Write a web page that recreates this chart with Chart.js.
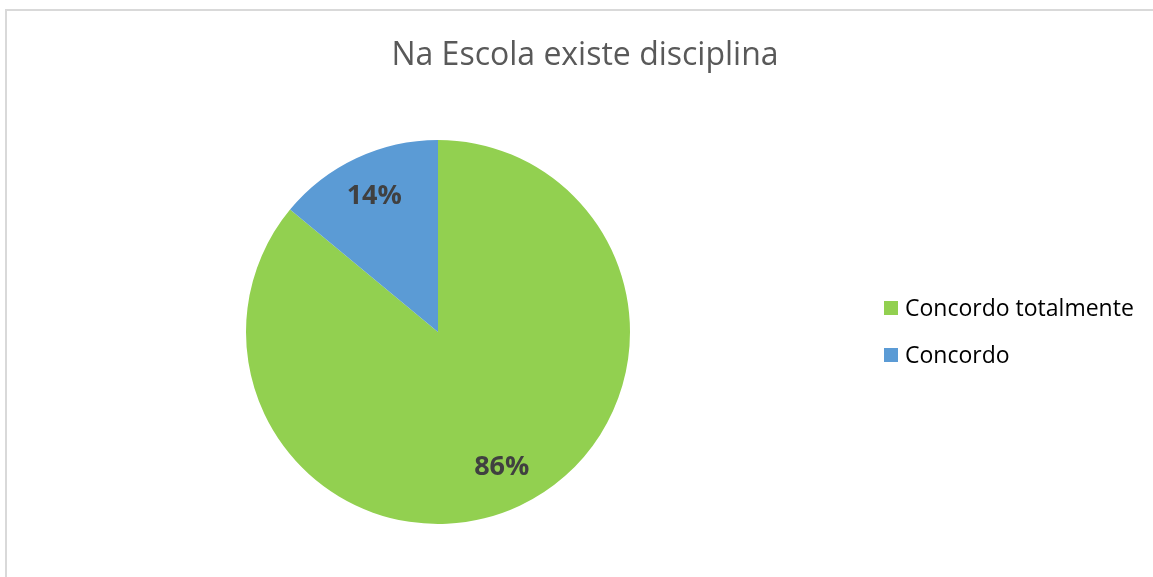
<!DOCTYPE html>
<html>
<head>
<meta charset="utf-8">
<script src="https://cdn.jsdelivr.net/npm/chart.js@4"></script>
<style>
  html, body { margin: 0; padding: 0; background: #fff; overflow: hidden; }
  #frame {
    position: absolute; left: 5px; top: 9px; width: 1170px; height: 600px;
    border: 2px solid #d9d9d9; box-sizing: border-box;
  }
  #wrap { position: absolute; left: 0; top: 0; width: 1153px; height: 577px; }
</style>
</head>
<body>
<div id="frame"></div>
<div id="wrap"><canvas id="pie"></canvas></div>
<script>
const title = "Na Escola existe disciplina";
const labels = ["Concordo totalmente", "Concordo"];
const values = [86, 14];
const colors = ["#92d050", "#5b9bd5"];

// Title, legend and percentage labels drawn on top of the pie
const extras = {
    id: "extras",
    afterDraw(chart) {
        const ctx = chart.ctx;
        ctx.save();

        // title
        ctx.fillStyle = "#595959";
        ctx.font = "32px 'Open Sans'";
        ctx.textAlign = "center";
        ctx.textBaseline = "middle";
        ctx.fillText(title, 585, 56);

        // percentage labels inside slices
        const meta = chart.getDatasetMeta(0);
        const total = values.reduce((a, b) => a + b, 0);
        ctx.fillStyle = "#404040";
        ctx.font = "bold 27px 'Open Sans'";
        meta.data.forEach((arc, i) => {
            const mid = (arc.startAngle + arc.endAngle) / 2;
            const r = arc.outerRadius * 0.78;
            const x = arc.x + Math.cos(mid) * r;
            const y = arc.y + Math.sin(mid) * r;
            ctx.fillText(Math.round(values[i] / total * 100) + "%", x, y);
        });

        // legend
        ctx.textAlign = "left";
        ctx.font = "23px 'Open Sans'";
        labels.forEach((lab, i) => {
            const cy = 308 + i * 47;
            ctx.fillStyle = colors[i];
            ctx.fillRect(884, cy - 7, 14, 14);
            ctx.fillStyle = "#000";
            ctx.fillText(lab, 905, cy + 1);
        });
        ctx.restore();
    }
};

new Chart(document.getElementById("pie"), {
    type: "pie",
    data: {
        labels: labels,
        datasets: [{
            data: values,
            backgroundColor: colors,
            borderWidth: 0,
            hoverOffset: 0
        }]
    },
    options: {
        responsive: true,
        maintainAspectRatio: false,
        animation: false,
        layout: { padding: { top: 140, bottom: 53, left: 246, right: 523 } },
        plugins: {
            legend: { display: false },
            title: { display: false },
            tooltip: { enabled: false }
        }
    },
    plugins: [extras]
});
</script>
</body>
</html>
